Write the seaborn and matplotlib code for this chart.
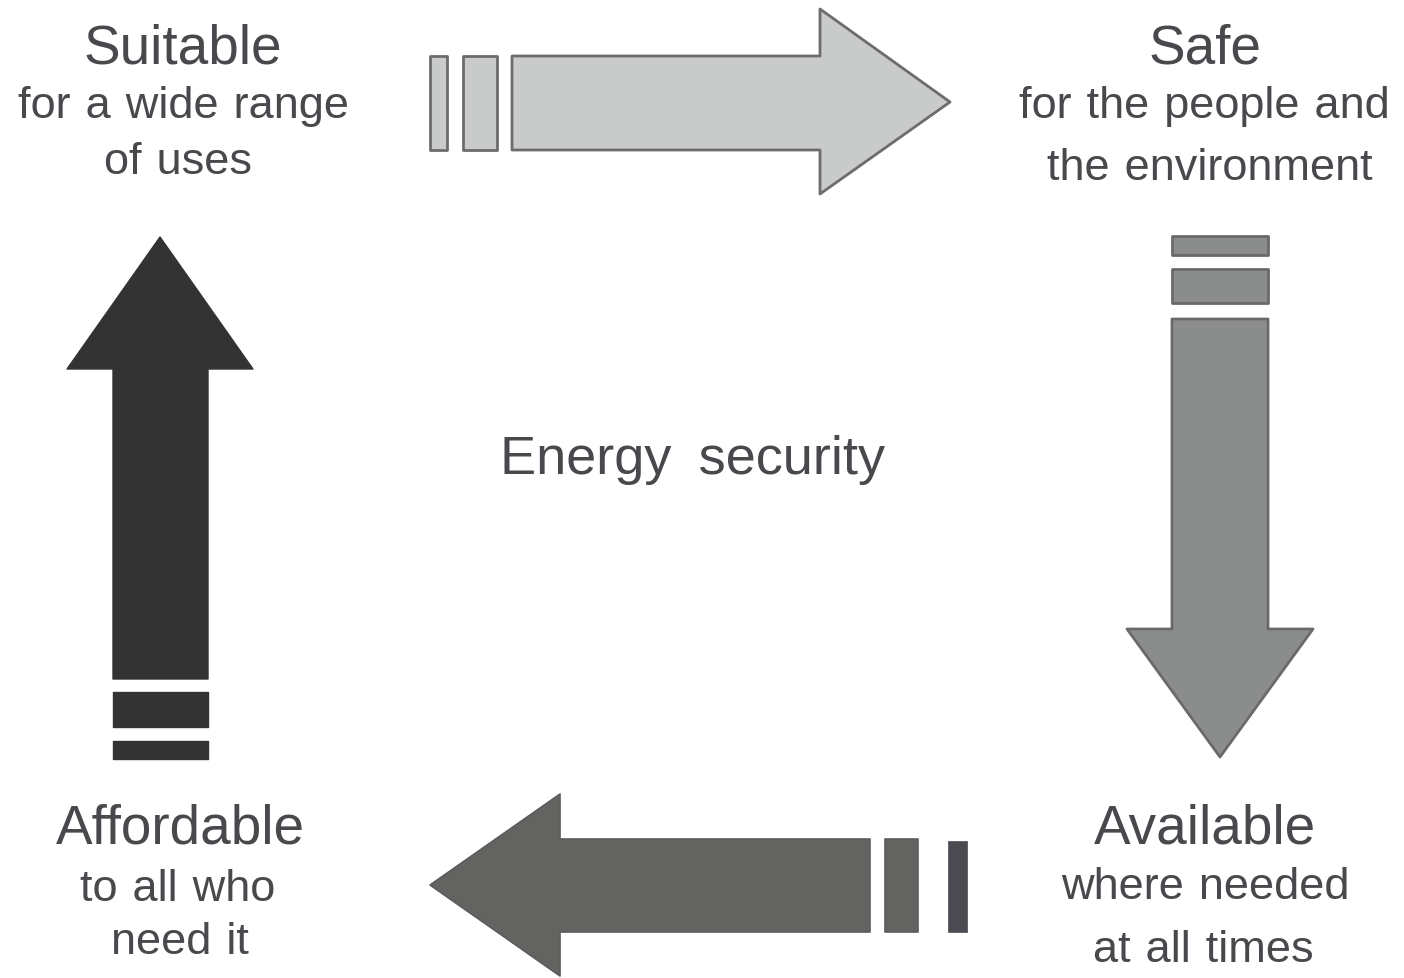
import matplotlib
matplotlib.use("Agg")
import matplotlib.pyplot as plt
from matplotlib.patches import Polygon
import seaborn as sns

# ---- content ----
titles = ["Suitable", "Safe", "Available", "Affordable"]
subtitles = [["for a wide range", "of uses"],
             ["for the people and", "the environment"],
             ["where needed", "at all times"],
             ["to all who", "need it"]]
center_label = "Energy security"
arrow_fill = ["#c9cbca", "#8b8d8c", "#636361", "#333333"]
arrow_edge = ["#6c6c6c", "#6a6a6a", "#5c5c5a", "#333333"]

# ---- layout (pixel space) ----
title_pos = [(183, 64), (1205, 64), (1205, 844), (180, 844)]
sub_pos = [[(183, 118), (178, 174)],
           [(1204, 118), (1210, 180)],
           [(1205, 899), (1203, 962)],
           [(178, 901), (180, 954)]]
center_pos = (693, 474)

sns.set_theme(style="white")
plt.rcParams['font.family'] = ['Liberation Sans', 'DejaVu Sans']
text_color = "#48484d"

fig = plt.figure(figsize=(14.04, 9.79), dpi=100)
ax = fig.add_axes([0, 0, 1, 1])
ax.set_xlim(0, 1404)
ax.set_ylim(979, 0)
ax.axis("off")


def rect(x0, y0, x1, y1):
    return [(x0, y0), (x1, y0), (x1, y1), (x0, y1)]


def add(poly, fc, ec, lw=2.0):
    ax.add_patch(Polygon(poly, closed=True, facecolor=fc, edgecolor=ec,
                         linewidth=lw, joinstyle="round"))


def wide(s, sp="\u2004"):
    return s.replace(" ", sp)


# top arrow (right-pointing)
add([(512, 57), (820, 57), (820, 10), (950, 103), (820, 195), (820, 151), (512, 151)],
    arrow_fill[0], arrow_edge[0])
add(rect(430, 57, 447, 151), arrow_fill[0], arrow_edge[0])
add(rect(463, 57, 497, 151), arrow_fill[0], arrow_edge[0])

# right arrow (down-pointing)
add([(1172, 320), (1268, 320), (1268, 630), (1313, 630), (1220, 758), (1127, 630), (1172, 630)],
    arrow_fill[1], arrow_edge[1])
add(rect(1172, 270, 1268, 304), arrow_fill[1], arrow_edge[1])
add(rect(1172, 237, 1268, 256), arrow_fill[1], arrow_edge[1])

# bottom arrow (left-pointing)
add([(870, 840), (870, 933), (560, 933), (560, 977), (430, 886), (560, 795), (560, 840)],
    arrow_fill[2], arrow_edge[2], 1.2)
add(rect(885, 840, 918, 933), arrow_fill[2], arrow_edge[2], 1.2)
add(rect(948, 842, 967, 933), "#4a4a50", "#4a4a50", 0.5)

# left arrow (up-pointing)
add([(113, 680), (113, 370), (67, 370), (160, 238), (253, 370), (208, 370), (208, 680)],
    arrow_fill[3], arrow_edge[3], 1.0)
add(rect(113, 693, 208, 728), arrow_fill[3], arrow_edge[3], 1.0)
add(rect(113, 742, 208, 760), arrow_fill[3], arrow_edge[3], 1.0)

# texts
for t, (x, y) in zip(titles, title_pos):
    ax.text(x, y, t, ha="center", va="baseline", fontsize=39.5, color=text_color)
for lines, poss in zip(subtitles, sub_pos):
    for s, (x, y) in zip(lines, poss):
        ax.text(x, y, wide(s), ha="center", va="baseline", fontsize=32.5,
                color=text_color)
ax.text(center_pos[0], center_pos[1], wide(center_label, "\u2002"), ha="center",
        va="baseline", fontsize=39, color=text_color)

fig.savefig("out.png", dpi=100, facecolor="white")
